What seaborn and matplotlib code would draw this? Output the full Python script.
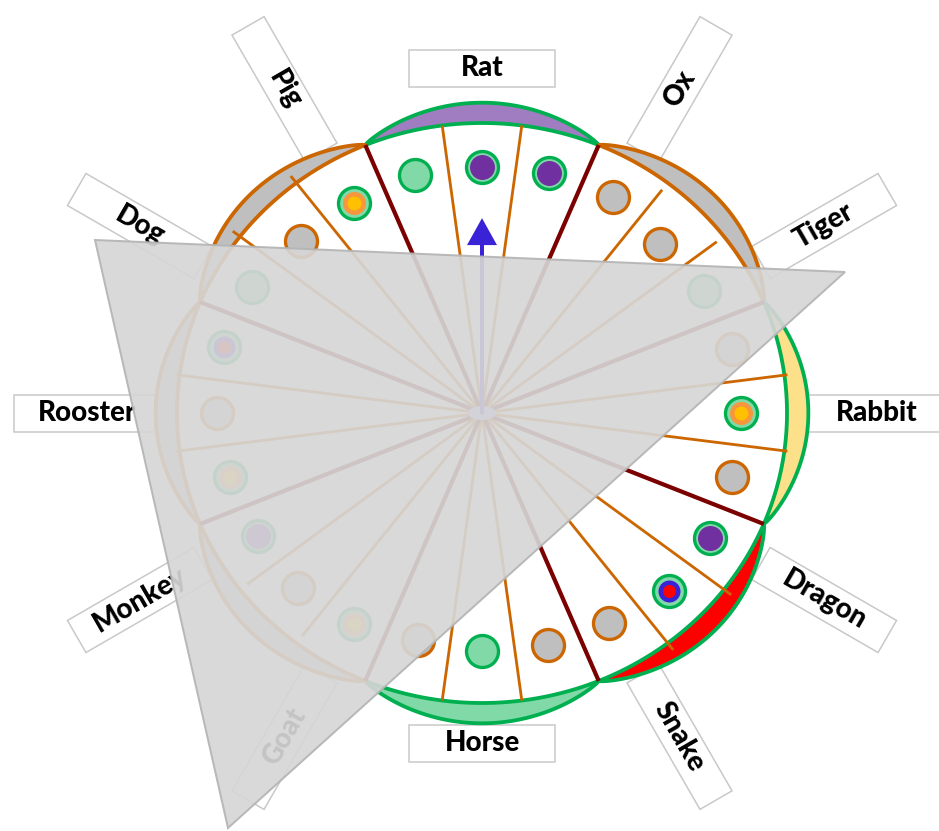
import numpy as np
import pandas as pd
import matplotlib
matplotlib.use("Agg")
import matplotlib.pyplot as plt
import seaborn as sns
from matplotlib.patches import Polygon, Ellipse

# ---------------- data ----------------
zodiac_labels = ["Rat", "Ox", "Tiger", "Rabbit", "Dragon", "Snake",
                 "Horse", "Goat", "Monkey", "Rooster", "Dog", "Pig"]
zodiac_angles = [0, 30, 60, 90, 120, 150, 180, 210, 240, 270, 300, 330]

# 8 sectors of 45 degrees, each split into 3 sub-sectors
sector_starts = [-22.5, 22.5, 67.5, 112.5, 157.5, 202.5, 247.5, 292.5]
band_fill = ["#a07cc0", "#bfbfbf", "#fde08a", "#ff0000",
             "#82d9a8", "#bfbfbf", "#bfbfbf", "#bfbfbf"]
band_edge = ["#00b050", "#cc6600", "#00b050", "#00b050",
             "#00b050", "#cc6600", "#cc6600", "#cc6600"]
spoke_len = [1.0, 0.97, 1.01, 1.03, 1.0, 0.97, 1.01, 1.03]

marker_angles = [-15, 0, 15, 30, 45, 60, 75, 90, 105, 120, 135, 150,
                 165, 180, 195, 210, 225, 240, 255, 270, 285, 300, 315, 330]
marker_radius = [0.85, 0.85, 0.855, 0.862, 0.826, 0.84, 0.85, 0.85, 0.85,
                 0.864, 0.869, 0.836, 0.83, 0.82, 0.81, 0.84, 0.854, 0.847,
                 0.855, 0.87, 0.877, 0.87, 0.841, 0.837]
marker_type = ["A", "C", "C", "B", "B", "A", "B", "D", "B", "C", "E", "B",
               "B", "A", "B", "D", "B", "C", "D", "B", "E", "A", "B", "D"]

pointer_angle = 0
pointer_tip = 0.672
pointer_head_base = 0.579

overlay_triangle = [(95, 240), (845, 272), (228, 828)]

# ---------------- layout ----------------
W, H = 939, 831
CX, CY = 482, 413
RX, RY = 305, 290
BULGE = 0.07
PX = 0.72  # points per pixel at dpi 100

GREEN = "#00b050"
LGREEN = "#82d9a8"
ORANGE = "#cc6600"
GRAY = "#bfbfbf"
DARKRED = "#7b0000"
BLUE = "#3a22d6"

sns.set_theme(style="white")
plt.rcParams["font.family"] = ["Lato", "DejaVu Sans"]

fig = plt.figure(figsize=(W / 100, H / 100), dpi=100)
ax = fig.add_axes([0, 0, 1, 1])
ax.set_xlim(0, W)
ax.set_ylim(H, 0)
ax.axis("off")


def pt(theta, r):
    t = np.radians(theta)
    return CX + RX * r * np.sin(t), CY - RY * r * np.cos(t)


# ---- label boxes ----
BOX_L, BOX_H = 146, 37
A_LAB, B_LAB = 322, 301
for name, th in zip(zodiac_labels, zodiac_angles):
    rot = (90 - th) % 180
    if rot > 90:
        rot -= 180
    if abs(rot) == 90:
        rot = 0
    r_ = np.radians(rot)
    u = np.array([np.cos(r_), -np.sin(r_)])
    v = np.array([np.sin(r_), np.cos(r_)])
    d = np.array([np.sin(np.radians(th)), -np.cos(np.radians(th))])
    if th % 180 == 0:
        dist = 345 if th == 0 else 330
        c = np.array([CX, CY]) + d * dist
    else:
        if np.dot(u, d) < 0:
            u = -u
        anchor = np.array([CX + A_LAB * np.sin(np.radians(th)),
                           CY - B_LAB * np.cos(np.radians(th))])
        c = anchor + u * BOX_L / 2
    corners = [c + u * BOX_L / 2 + v * BOX_H / 2, c + u * BOX_L / 2 - v * BOX_H / 2,
               c - u * BOX_L / 2 - v * BOX_H / 2, c - u * BOX_L / 2 + v * BOX_H / 2]
    ax.add_patch(Polygon(corners, closed=True, fc="white", ec="#c8c8c8",
                         lw=1.5 * PX, zorder=1))
    ax.text(c[0], c[1], name, rotation=rot, rotation_mode="anchor",
            ha="center", va="center", fontsize=20, fontweight=900,
            color="black", zorder=2)

# ---- white disc ----
ax.add_patch(Ellipse((CX, CY), 2 * RX, 2 * RY, fc="white", ec="none", zorder=3))

# ---- outer bands ----
tt = np.linspace(0, 1, 80)
for s, fcol, ecol in zip(sector_starts, band_fill, band_edge):
    ang = s + 45 * tt
    xi, yi = pt(ang, np.ones_like(tt))
    xo, yo = pt(ang[::-1], 1 + BULGE * np.sin(np.pi * tt[::-1]) ** 0.8)
    poly = np.column_stack([np.concatenate([xi, xo]), np.concatenate([yi, yo])])
    ax.add_patch(Polygon(poly, closed=True, fc=fcol, ec=ecol, lw=3.8 * PX,
                         joinstyle="round", zorder=4))

# ---- spokes ----
for s, ln in zip(sector_starts, spoke_len):
    for k in (1, 2):
        x1, y1 = pt(s + 15 * k, ln)
        ax.plot([CX, x1], [CY, y1], color=ORANGE, lw=2.8 * PX, zorder=5,
                solid_capstyle="butt")
for s in sector_starts:
    x1, y1 = pt(s, 1.0)
    ax.plot([CX, x1], [CY, y1], color=DARKRED, lw=4.2 * PX, zorder=5.5,
            solid_capstyle="butt")

# ---- markers ----
df = pd.DataFrame({"angle": marker_angles, "radius": marker_radius, "kind": marker_type})
df["x"], df["y"] = pt(df["angle"].to_numpy(), df["radius"].to_numpy())

base_style = {"A": (LGREEN, GREEN), "B": (GRAY, ORANGE),
              "C": (LGREEN, GREEN), "D": (LGREEN, GREEN), "E": (LGREEN, GREEN)}
for kind, (fc, ec) in base_style.items():
    sub = df[df["kind"] == kind]
    if len(sub):
        sns.scatterplot(data=sub, x="x", y="y", s=(32 * PX) ** 2, color=fc,
                        edgecolor=ec, linewidth=3.3 * PX, ax=ax, legend=False, zorder=6)

inner1 = {"C": ("#7030a0", 25), "D": ("#f7963c", 23), "E": (BLUE, 22)}
for kind, (fc, dpx) in inner1.items():
    sub = df[df["kind"] == kind]
    sns.scatterplot(data=sub, x="x", y="y", s=(dpx * PX) ** 2, color=fc,
                    linewidth=0, ax=ax, legend=False, zorder=7)
inner2 = {"D": ("#ffc000", 14), "E": ("#ff0000", 13)}
for kind, (fc, dpx) in inner2.items():
    sub = df[df["kind"] == kind]
    sns.scatterplot(data=sub, x="x", y="y", s=(dpx * PX) ** 2, color=fc,
                    linewidth=0, ax=ax, legend=False, zorder=8)

# ---- pointer ----
ax.add_patch(Ellipse((CX, CY), 28, 14, fc="#b8b0ff", ec="none", zorder=9))
bx, by = pt(pointer_angle, pointer_head_base)
tx, ty = pt(pointer_angle, pointer_tip)
ax.plot([CX, bx], [CY, by], color=BLUE, lw=4 * PX, zorder=9)
pa = np.radians(pointer_angle)
perp = np.array([np.cos(pa), np.sin(pa)])
head = [(bx - 15 * perp[0], by - 15 * perp[1]), (bx + 15 * perp[0], by + 15 * perp[1]), (tx, ty)]
ax.add_patch(Polygon(head, closed=True, fc=BLUE, ec="none", zorder=9))

# ---- translucent overlay triangle ----
ax.add_patch(Polygon(overlay_triangle, closed=True, fc=(0.84, 0.84, 0.84),
                     ec="#b4b4b4", lw=2 * PX, alpha=0.92, zorder=10))

fig.savefig("out.png", dpi=100)
